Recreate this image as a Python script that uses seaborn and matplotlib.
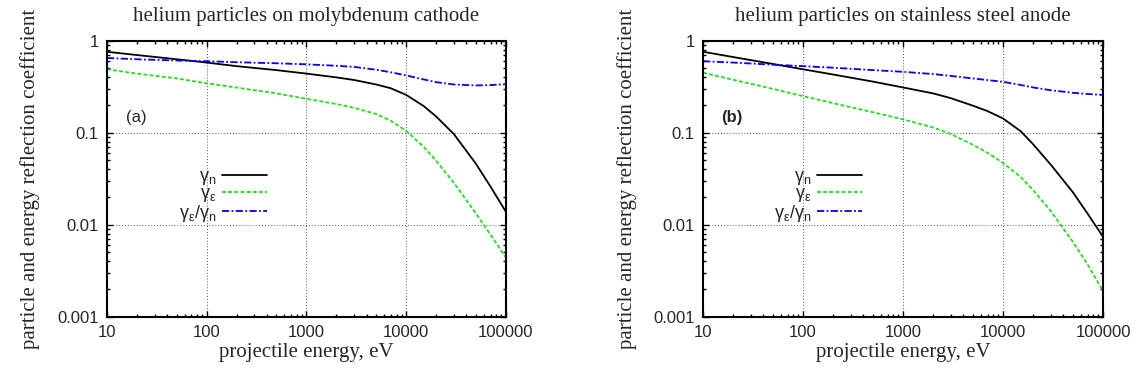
import matplotlib
matplotlib.use("Agg")
import matplotlib.pyplot as plt
from matplotlib.ticker import LogLocator, FixedLocator, FixedFormatter, NullFormatter
import seaborn as sns
import pandas as pd

# ---------------- data ----------------
energy = [10, 20, 50, 100, 200, 500, 1000, 2000, 3000, 5000, 7000,
          10000, 15000, 20000, 30000, 50000, 70000, 100000]

mo_gn = [0.76, 0.70, 0.63, 0.58, 0.53, 0.48, 0.44, 0.40, 0.375, 0.335, 0.305,
         0.258, 0.195, 0.15, 0.097, 0.046, 0.026, 0.0138]
mo_ge = [0.49, 0.44, 0.39, 0.345, 0.31, 0.268, 0.234, 0.205, 0.187, 0.16, 0.135,
         0.105, 0.070, 0.0495, 0.0286, 0.0133, 0.0078, 0.0044]
mo_ratio = [0.65, 0.63, 0.61, 0.60, 0.585, 0.57, 0.555, 0.535, 0.52, 0.485, 0.455,
            0.42, 0.38, 0.355, 0.335, 0.327, 0.33, 0.338]

ss_gn = [0.76, 0.666, 0.56, 0.49, 0.43, 0.36, 0.311, 0.268, 0.238, 0.197, 0.172,
         0.143, 0.104, 0.075, 0.045, 0.0225, 0.0132, 0.0074]
ss_ge = [0.45, 0.377, 0.30, 0.25, 0.21, 0.167, 0.14, 0.114, 0.097, 0.074, 0.0605,
         0.047, 0.033, 0.0238, 0.0141, 0.0065, 0.0037, 0.0019]
ss_ratio = [0.60, 0.58, 0.55, 0.53, 0.51, 0.48, 0.46, 0.435, 0.415, 0.39, 0.374,
            0.358, 0.331, 0.311, 0.29, 0.272, 0.264, 0.258]

titles = ["helium particles on molybdenum cathode",
          "helium particles on stainless steel anode"]
panel_tags = ["(a)", "(b)"]
series_labels = ["γ$_\\mathregular{n}$", "γ$_\\mathregular{ε}$",
                 "γ$_\\mathregular{ε}$/γ$_\\mathregular{n}$"]
x_ticks = [10, 100, 1000, 10000, 100000]
x_ticklabels = ["10", "100", "1000", "10000", "100000"]
y_ticks = [0.001, 0.01, 0.1, 1]
y_ticklabels = ["0.001", "0.01", "0.1", "1"]
xlabel = "projectile energy, eV"
ylabel = "particle and energy reflection coefficient"

# ---------------- style ----------------
sns.set_style("ticks")
plt.rcParams["font.family"] = ["Liberation Sans", "DejaVu Sans"]
plt.rcParams["mathtext.fontset"] = "custom"
plt.rcParams["mathtext.rm"] = "Liberation Sans"
plt.rcParams["mathtext.it"] = "Liberation Sans"

serif = ["Liberation Serif", "DejaVu Serif"]
colors = ["black", "#22dd22", "#0000ff"]
dash_styles = ["-", (0, (2.2, 1.2)), (0, (4, 1.3, 1, 1.3))]

fig = plt.figure(figsize=(11.38, 3.80), dpi=100)
ax_rects = [[0.094, 0.1666, 0.3506, 0.726],
            [0.6178, 0.1666, 0.3515, 0.726]]

datasets = [(mo_gn, mo_ge, mo_ratio), (ss_gn, ss_ge, ss_ratio)]
legend_x = [0.401, 0.398]
tag_x = [0.048, 0.045]

for i, (rect, data) in enumerate(zip(ax_rects, datasets)):
    ax = fig.add_axes(rect)
    for j, (vals, lab) in enumerate(zip(data, series_labels)):
        df = pd.DataFrame({"energy": energy, "value": vals})
        sns.lineplot(data=df, x="energy", y="value", ax=ax, color=colors[j],
                     linewidth=1.3, label=lab, linestyle=dash_styles[j])
    ax.set_xscale("log")
    ax.set_yscale("log")
    ax.set_xlim(10, 100000)
    ax.set_ylim(0.001, 1)

    ax.xaxis.set_major_locator(FixedLocator(x_ticks))
    ax.xaxis.set_major_formatter(FixedFormatter(x_ticklabels))
    ax.yaxis.set_major_locator(FixedLocator(y_ticks))
    ax.yaxis.set_major_formatter(FixedFormatter(y_ticklabels))
    ax.xaxis.set_minor_locator(LogLocator(base=10, subs=range(2, 10), numticks=20))
    ax.yaxis.set_minor_locator(LogLocator(base=10, subs=range(2, 10), numticks=20))
    ax.xaxis.set_minor_formatter(NullFormatter())
    ax.yaxis.set_minor_formatter(NullFormatter())

    ax.tick_params(which="both", direction="in", top=True, right=True,
                   width=1.0, color="black")
    ax.tick_params(which="major", length=4.5, labelsize=12, pad=6)
    ax.tick_params(which="minor", length=2.5)
    for sp in ax.spines.values():
        sp.set_linewidth(1.5)
        sp.set_color("black")

    ax.grid(True, which="major", linestyle=(0, (1, 2)), color="#555555",
            linewidth=0.7)
    ax.set_axisbelow(True)

    ax.set_title(titles[i], family=serif, fontsize=15, pad=14)
    ax.set_xlabel(xlabel, family=serif, fontsize=15, labelpad=2)
    ax.set_ylabel(ylabel, family=serif, fontsize=15, labelpad=12)

    ax.text(tag_x[i], 0.723, panel_tags[i],
            transform=ax.transAxes, ha="left", va="center", fontsize=12,
            fontweight="normal" if i == 0 else "bold")

    ax.legend(loc="center right", bbox_to_anchor=(legend_x[i], 0.438),
              frameon=False, markerfirst=False, fontsize=13,
              handlelength=2.5, handletextpad=0.3, labelspacing=-0.1,
              borderaxespad=0, borderpad=0)

fig.savefig("out.png", dpi=100)
